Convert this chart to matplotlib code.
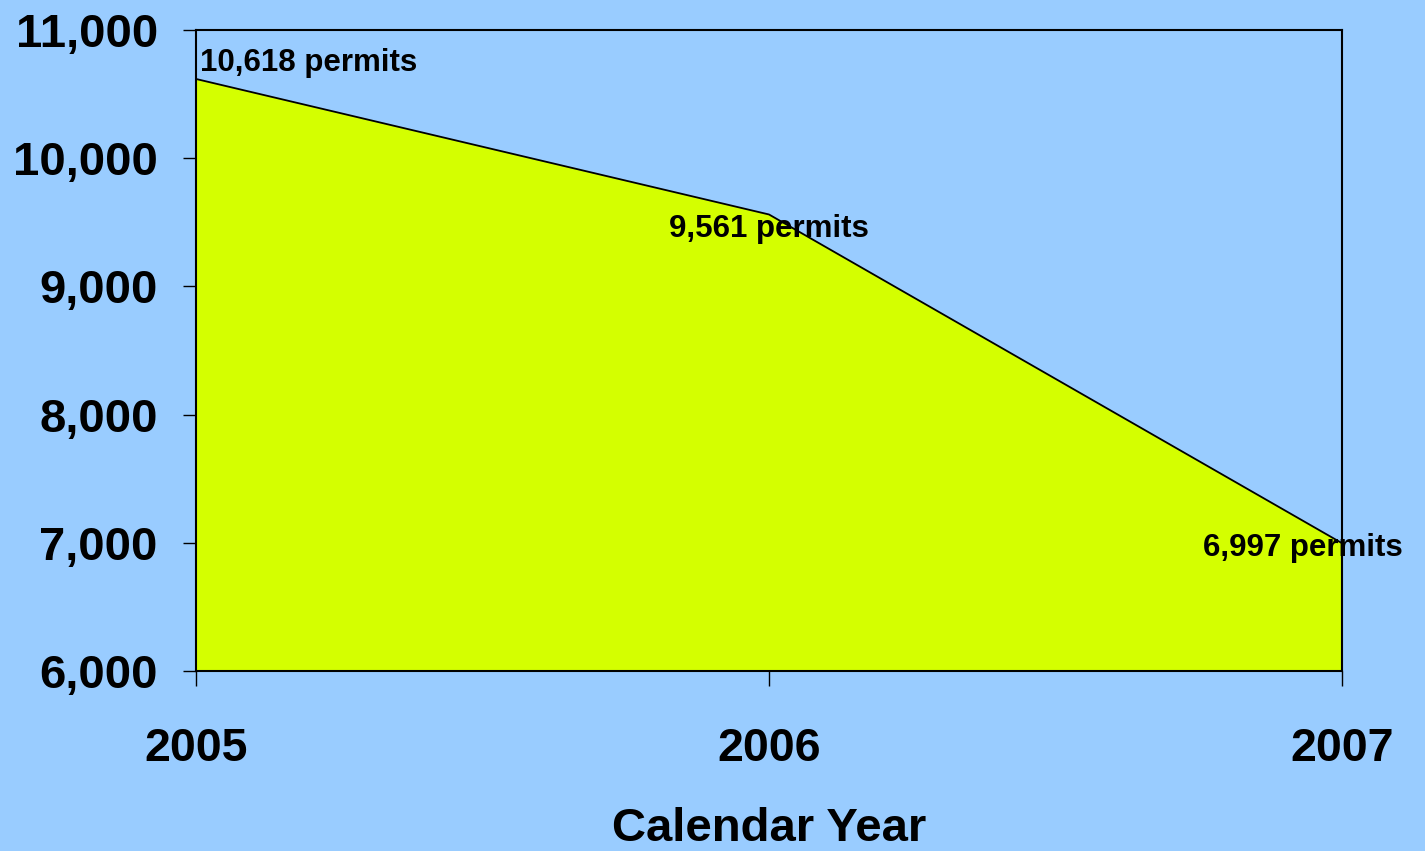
import numpy as np
import matplotlib.pyplot as plt
from matplotlib.ticker import FuncFormatter

# data
years = [2005, 2006, 2007]
permits = [10618, 9561, 6997]
labels = ['10,618 permits', '9,561 permits', '6,997 permits']
# label offsets in pixels (Excel-style placement)
offsets = [(4, 16, 'left'), (0, -15, 'center'), (-39, -5, 'center')]

bg = '#99CCFF'
fill = '#D4FF00'

plt.rcParams['font.family'] = ['Liberation Sans', 'DejaVu Sans']
plt.rcParams['font.weight'] = 'bold'

fig = plt.figure(figsize=(14.25, 8.51), dpi=100, facecolor=bg)
ax = fig.add_axes([196 / 1425, 180 / 851, 1146 / 1425, 641 / 851])
ax.set_facecolor(bg)

ax.fill_between(years, permits, 6000, color=fill, lw=0)
ax.plot(years, permits, color='black', lw=1.3)

for x, y, txt, (dx, dy, ha) in zip(years, permits, labels, offsets):
    ax.annotate(txt, (x, y), xytext=(dx * 0.72, dy * 0.72), textcoords='offset points',
                ha=ha, va='center', fontsize=22.5, fontweight='bold')

ax.set_xlim(2005, 2007)
ax.set_ylim(6000, 11000)
ax.set_xticks(years)
ax.set_yticks(range(6000, 11001, 1000))
ax.yaxis.set_major_formatter(FuncFormatter(lambda v, p: f'{int(v):,}'))

for s in ax.spines.values():
    s.set_color('black')
    s.set_linewidth(1.5)

ax.tick_params(axis='y', length=9.5, width=1, pad=18, labelsize=34)
ax.tick_params(axis='x', length=11, width=1, pad=29, labelsize=33.5)
for t in ax.get_xticklabels() + ax.get_yticklabels():
    t.set_fontweight('bold')

ax.set_xlabel('Calendar Year', fontsize=34, fontweight='bold', labelpad=26)

fig.savefig('out.png', dpi=100, facecolor=bg)
